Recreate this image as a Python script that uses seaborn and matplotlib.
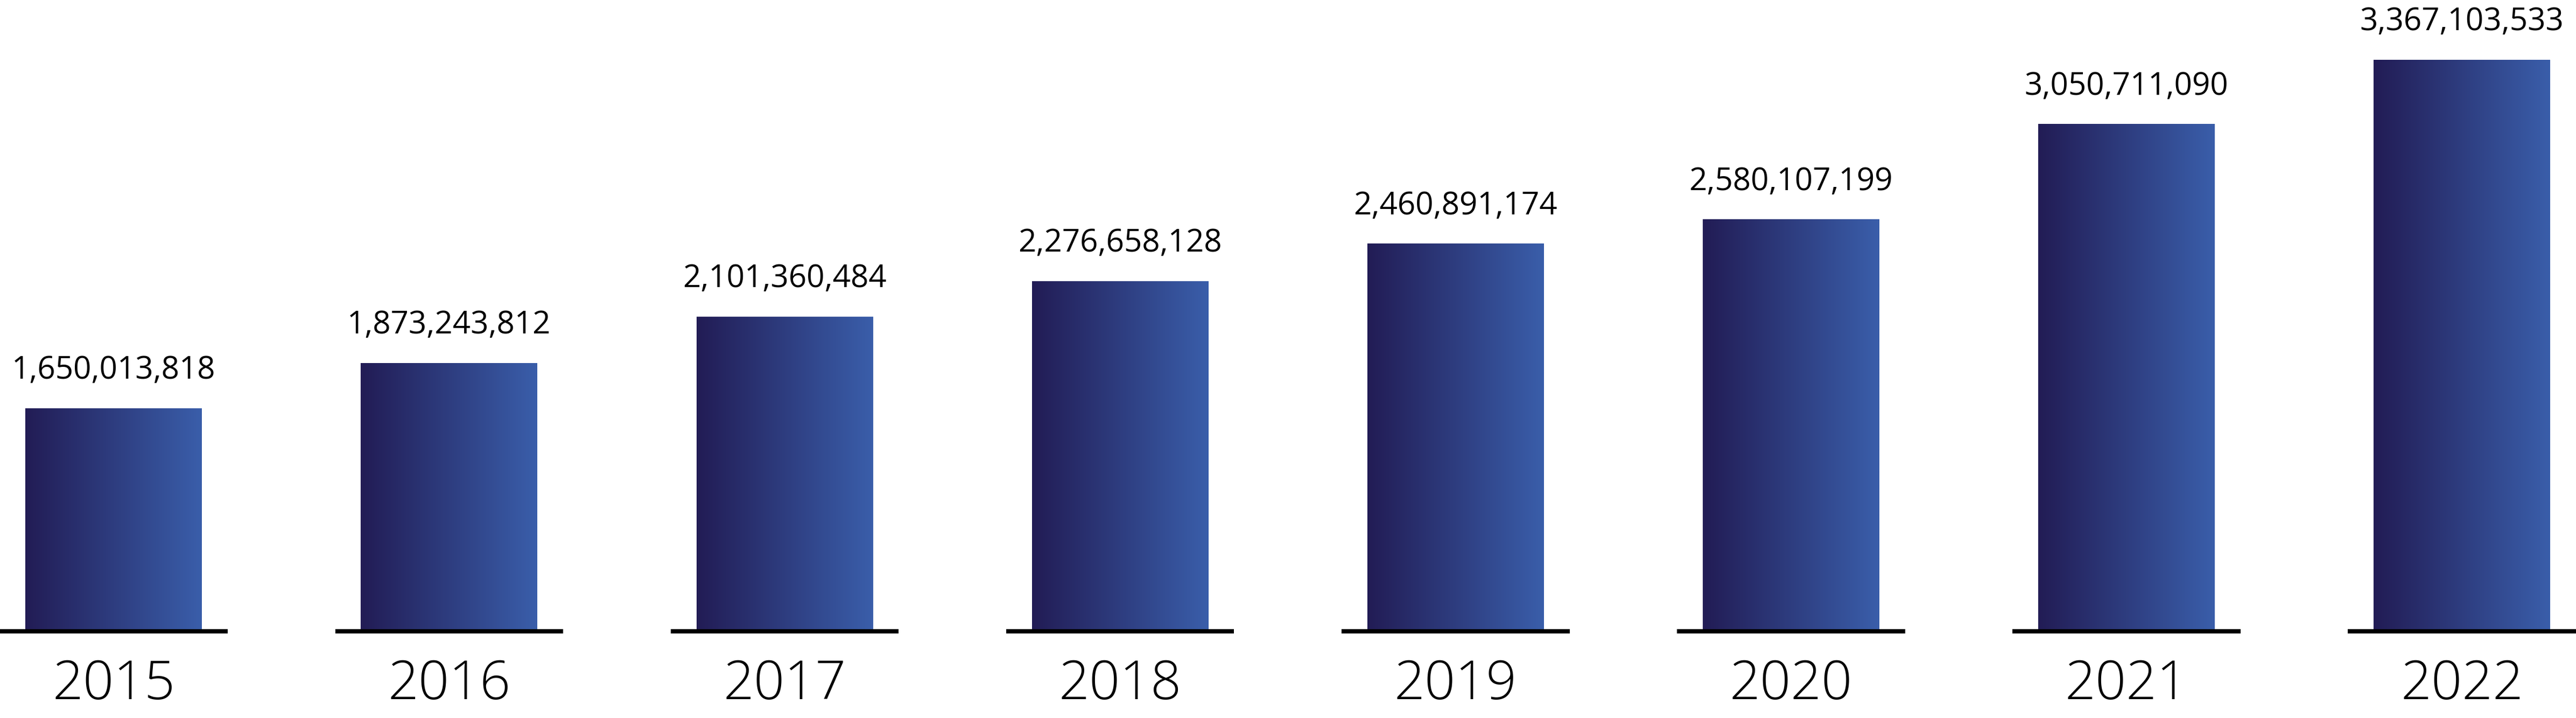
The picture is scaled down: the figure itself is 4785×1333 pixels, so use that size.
"""
Yearly totals 2015-2022 as gradient-filled bars.
"""

import numpy as np
import matplotlib
matplotlib.use("Agg")
import matplotlib.pyplot as plt
from matplotlib.colors import LinearSegmentedColormap
import seaborn as sns

# Data
years = ["2015", "2016", "2017", "2018", "2019", "2020", "2021", "2022"]
values = [1650013818, 1873243812, 2101360484, 2276658128,
          2460891174, 2580107199, 3050711090, 3367103533]

sns.set_theme(style="white")
plt.rcParams['font.family'] = ['Open Sans', 'DejaVu Sans']

fig = plt.figure(figsize=(47.85, 13.33), dpi=100)
ax = fig.add_axes([0, 0.1238, 1, 0.8762])

sns.barplot(x=years, y=values, ax=ax, width=0.526, color="#2c3574",
            linewidth=0, saturation=1)

y0, y1 = 0.562e9, 3.663e9
ax.set_xlim(-0.339, 7.34)
ax.set_ylim(y0, y1)

# Gradient fill (dark navy -> blue) in place of each bar's flat colour
cmap = LinearSegmentedColormap.from_list("bar_grad", ["#221c55", "#3a5eaa"])
grad = np.linspace(0, 1, 256).reshape(1, -1)
for patch in ax.patches:
    x, w, h = patch.get_x(), patch.get_width(), patch.get_height()
    ax.imshow(grad, cmap=cmap, aspect="auto", extent=[x, x + w, y0, h],
              zorder=3)
    patch.set_visible(False)
ax.set_xlim(-0.339, 7.34)
ax.set_ylim(y0, y1)

# Short baseline segment under each bar
line_off = 4 / 376.6 * 1e9
for i in range(len(years)):
    ax.hlines(y0 - line_off, i - 0.34, i + 0.34, color="black",
              linewidth=5.8, zorder=2, clip_on=False)

# Value labels above bars, year labels below
for i, v in enumerate(values):
    ax.annotate(f"{v:,}", xy=(i, v), xytext=(0, 39.6),
                textcoords="offset points", ha="center", va="baseline",
                fontsize=42, color="black")
    ax.text(i, -0.1113, years[i], transform=ax.get_xaxis_transform(),
            ha="center", va="baseline", fontsize=72, fontweight="light",
            color="black")

ax.set_xticks([])
ax.set_yticks([])
ax.set_xlabel("")
ax.set_ylabel("")
sns.despine(ax=ax, left=True, bottom=True)

fig.savefig("out.png", dpi=100)
plt.close(fig)
